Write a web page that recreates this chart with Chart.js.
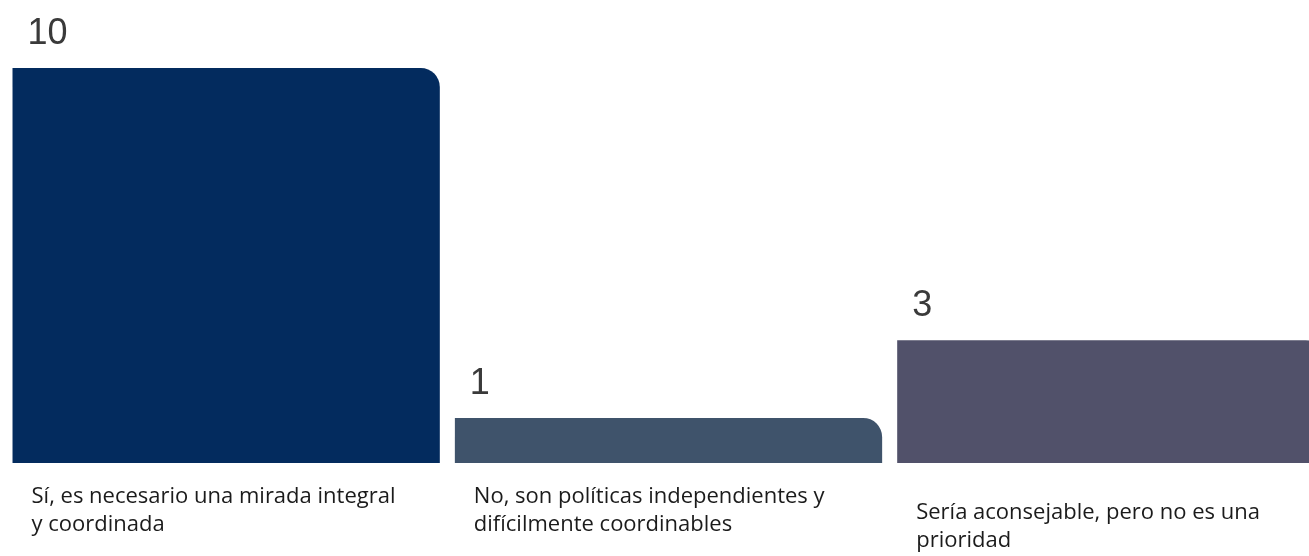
<!DOCTYPE html>
<html>
<head>
<meta charset="utf-8">
<script src="https://cdn.jsdelivr.net/npm/chart.js@4/dist/chart.umd.min.js"></script>
<style>
  html, body { margin: 0; padding: 0; background: #fff; overflow: hidden; }
  #wrap { width: 1332px; height: 556px; }
</style>
</head>
<body>
<div id="wrap"><canvas id="myChart" width="1332" height="556"></canvas></div>
<script>
const categories = [
  ["Sí, es necesario una mirada integral", "y coordinada"],
  ["No, son políticas independientes y", "difícilmente coordinables"],
  ["Sería aconsejable, pero no es una", "prioridad"]
];
const values = [10, 1, 3];
const barColors = ["#032b5e", "#3f536b", "#51516a"];

// small shift down for the last category label, as in the original
const labelDrop = [0, 0, 16];

const barLabels = {
  id: "barLabels",
  afterDatasetsDraw(chart) {
    const ctx = chart.ctx;
    const meta = chart.getDatasetMeta(0);
    ctx.save();
    ctx.textAlign = "left";
    ctx.textBaseline = "alphabetic";
    meta.data.forEach((bar, i) => {
      const left = bar.x - bar.width / 2;
      // value above bar
      ctx.font = "36px 'Liberation Sans', Arial, sans-serif";
      ctx.fillStyle = "#3a3a3a";
      ctx.fillText(String(values[i]), left + 15, bar.y - 24);
      // category below axis
      ctx.font = "22px 'Open Sans', sans-serif";
      ctx.fillStyle = "#1b1b1b";
      const base = chart.chartArea.bottom + 40 + labelDrop[i];
      categories[i].forEach((line, j) => {
        ctx.fillText(line, left + 19, base + j * 28);
      });
    });
    ctx.restore();
  }
};

const data = {
  labels: categories.map((c) => c.join(" ")),
  datasets: [
    {
      data: values,
      backgroundColor: barColors,
      borderRadius: { topRight: 19, topLeft: 0, bottomLeft: 0, bottomRight: 0 },
      borderSkipped: false,
      base: -0.16,
      categoryPercentage: 1,
      barPercentage: 0.966,
    },
  ],
};

const options = {
  responsive: false,
  animation: false,
  layout: { padding: { left: 5, right: 0, top: 0, bottom: 93 } },
  plugins: {
    legend: { display: false },
    tooltip: { enabled: false },
  },
  scales: {
    x: { display: false },
    y: { display: false, min: -0.16, max: 11.75 },
  },
};

const myChart = new Chart(document.getElementById("myChart"), {
  type: "bar",
  data: data,
  options,
  plugins: [barLabels],
});
</script>
</body>
</html>
